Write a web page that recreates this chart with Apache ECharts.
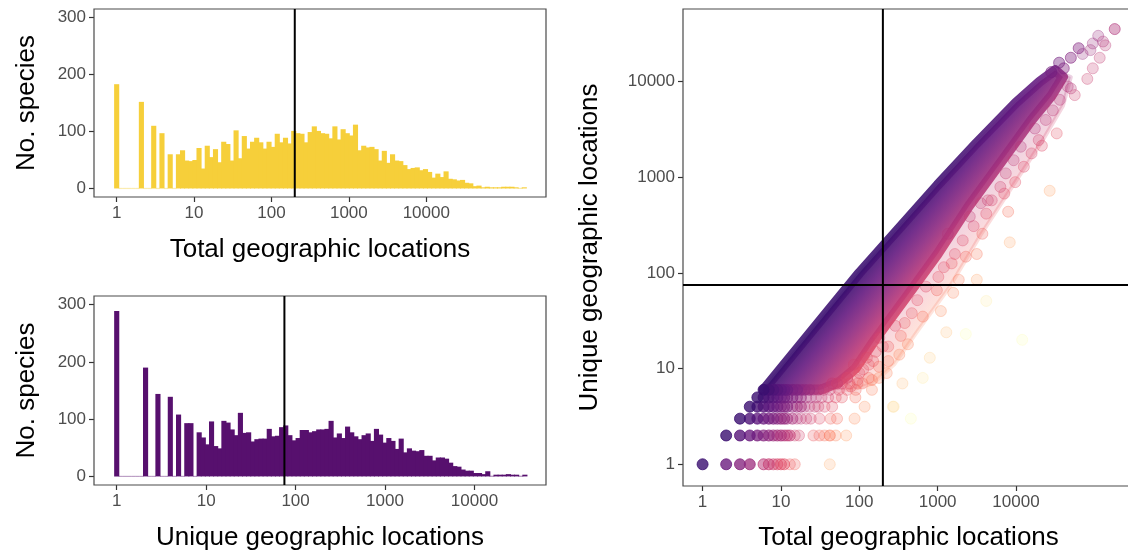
<!DOCTYPE html>
<html><head><meta charset="utf-8">
<script src="https://cdn.jsdelivr.net/npm/echarts@6/dist/echarts.min.js"></script>
<style>html,body{margin:0;padding:0;overflow:hidden;background:#fff}#c{width:1140px;height:559px}</style>
</head><body><div id="c"></div><script>
// ---------------- DATA ----------------
// histogram of total geographic locations: 100 bins in log10 space, bin k centred at k*totalBinWidth
const totalBinWidth = 0.0532;
const totalBinCounts = [183,0,0,0,0,0,152,0,0,110,0,97,0,60,0,
 60,67,49,48,50,71,35,75,55,69,46,82,78,49,102,53,92,70,82,89,81,70,82,73,96,81,89,79,101,97,
 96,81,99,109,101,97,96,88,109,86,104,97,93,112,67,75,72,73,69,49,66,45,60,49,48,41,34,36,37,32,
 34,29,19,26,20,30,17,16,14,15,10,9,4,5,2,3,2,2,2,3,3,3,2,1,2];
// histogram of unique geographic locations
const uniqueBinWidth = 0.0461;
const uniqueBinCounts = [289,0,0,0,0,0,0,190,0,0,144,0,0,139,0,108,0,93,93,0,
 77,68,56,96,53,49,97,94,82,72,111,76,77,61,65,66,66,83,70,71,86,89,72,63,67,81,81,77,79,82,
 82,83,97,68,75,67,87,77,70,65,72,75,62,83,73,59,67,62,48,66,42,49,45,44,46,36,36,28,33,33,
 31,24,18,17,12,10,10,6,6,4,9,1,3,3,3,4,3,3,1,3];
const logTickLabels = ['1','10','100','1000','10000'];
const countTicks = [0,100,200,300];
const totalRef = 200;   // vertical reference line
const uniqueRef = 75;   // reference line for unique locations

// scatter: rows of low unique counts (total values and number of stacked species)
const row1Total = [1,2,3,4,6,7,8,9,10,11,13,15,42];
const row1Count = [183,40,15,8,3,3,2,2,2,2,1,1,1];
const row2Total = [2,3,4,5,6,7,8,9,10,11,12,13,15,17,26,31,36,42,50,68];
const row2Count = [110,25,12,8,5,4,3,3,3,2,2,2,1,1,1,1,1,2,1,1];
const row3Total = [3,4,5,6,7,8,9,10,11,12,14,16,18,21,24,31,43,52,87,455];
const row3Count = [60,20,10,6,5,4,3,3,3,2,2,1,1,1,1,1,1,1,1,1];
const row4Total = [4,5,6,7,8,9,10,11,12,14,16,18,20,23,27,30,36,45,117,275];
const row4Count = [50,20,10,7,5,4,3,3,3,2,2,2,1,1,1,1,1,1,1,1];
const row5Total = [5,6,7,8,9,10,11,12,14,16,18,21,24,28,33,40,50,60,89];
const row5Count = [45,15,10,7,5,4,4,3,3,2,2,1,1,1,1,1,1,1,1];
const row6Total = [6,7,8,9,10,11,12,14,16,18,20,23,26,30,35,42,55,70,90];
const row6Count = [40,15,10,7,6,5,4,3,3,2,2,2,1,1,1,1,1,1,1];
const row7Total = [45,52,60,75,95,110];
const row7Count = [2,2,1,1,1,1];
// sparse individual species
const ptTotal  = [182000,112000,129000,138000,95500,89100,70800,117000,95500,81300,56200,50100,40700,33100,21400,17400,9770,26900,7940,8320,7080,4370,3720,3160,3160,2290,1860,1510,
                  12000,4170,2290,1290,794,646,355,269,1580,1100,977,646,417,324,224,178,145,234,132,
                  28200,35500,50100,63100,
                  45700,36300,29500,24000,19500,15800,12600,11500,9330,7410,6310,4900,4170,3550,2880,2570,2090,1660,1350,1200,1020,
                  708,550,468,380,339,288,234,200,178,162,145,132,112,95,85,78,
                  70,100,125,150,180];
const ptUnique = [35500,30200,26300,24000,25100,21400,19500,17800,13800,10700,7240,8510,13800,2880,2140,3240,891,724,437,209,676,575,257,158,85,148,85,126,
                  20,51,23,24,13,8,7,4,62,40,66,35,18,14,9,8,6,17,8,
                  12600,15800,17800,22400,
                  8910,6460,5010,3980,2450,1780,1290,2090,1510,1100,794,575,417,537,309,389,219,158,257,115,91,
                  72,52,38,30,22,28,12,17,10.5,15,7.6,11,9.8,7.6,11,6.5,
                  8,9,13,12,21];
const ptCount  = [2,1,1,1,1,1,1,1,1,1,1,1,2,1,1,1,1,1,1,1,1,1,1,1,1,1,1,1,
                  1,1,1,1,1,1,1,1,1,1,1,1,1,1,1,1,1,1,1,
                  2,2,2,2,
                  1,1,1,1,1,1,1,1,1,1,1,1,1,1,1,1,1,1,1,1,1,
                  1,1,1,1,1,1,1,1,1,1,1,1,1,1,1,1,
                  2,1,1,1,1];
// dense band outlines (total, unique)
const coreTotal  = [6,100,316,1000,3160,10000,20000,31600,39800,28200,15800,6310,2510,1000,398,158,89,55,32];
const coreUnique = [6,100,288,832,2290,6030,10000,13200,11200,7080,3980,1410,501,158,56,20,10,7.2,6];
const haloTotal  = [6,100,316,1000,3160,10000,20000,31600,50100,39800,22400,8910,3550,1410,562,282,150,80];
const haloUnique = [6,100,288,832,2290,6030,10000,13200,11200,5620,2510,794,251,70.8,25.1,11.2,7,6];

// ---------------- STYLE HELPERS ----------------
const LOG = Math.log10;
const magma = ['#3b0f70','#641a80','#8c2981','#b73779','#de4968','#f7705c','#fe9f6d','#fecf92','#fcfdbf'];
const LR_MAX = 2.0;
const FONT = '"Liberation Sans", Arial, Helvetica, sans-serif';
function hex2rgb(h){return [parseInt(h.slice(1,3),16),parseInt(h.slice(3,5),16),parseInt(h.slice(5,7),16)];}
function paletteAt(o){o=Math.max(0,Math.min(1,o));const f=o*(magma.length-1);const i=Math.min(magma.length-2,Math.floor(f));const t=f-i;const a=hex2rgb(magma[i]),b=hex2rgb(magma[i+1]);return a.map((v,j)=>Math.round(v+(b[j]-v)*t));}
function rgba(c,a){return 'rgba('+c[0]+','+c[1]+','+c[2]+','+a+')';}

const chart = echarts.init(document.getElementById('c'), null, {renderer:'canvas'});

function histSeries(counts, bw, idx, color){
  return {type:'custom', xAxisIndex:idx, yAxisIndex:idx, silent:true, animation:false, clip:true,
    data: counts.map((c,k)=>[k*bw, c]),
    renderItem:(params, api)=>{
      const c = api.value(0), n = api.value(1);
      const p0 = api.coord([c-bw/2, 0]);
      const p1 = api.coord([c+bw/2, n]);
      if (n <= 0) return {type:'rect', shape:{x:p0[0], y:p0[1]-0.6, width:p1[0]-p0[0], height:1.2}, style:{fill:color, opacity:0.4}};
      return {type:'rect', shape:{x:p0[0]-0.5, y:p1[1], width:p1[0]-p0[0]+1, height:p0[1]-p1[1]}, style:{fill:color}};
    }};
}
function bandSeries(tArr, uArr, alpha, strokeW){
  return {type:'custom', xAxisIndex:2, yAxisIndex:2, silent:true, animation:false, clip:true, data:[[0]],
    renderItem:(params, api)=>{
      const pts = tArr.map((t,i)=>api.coord([LOG(t), LOG(uArr[i])]));
      const P0 = api.coord([0,0]), P1 = api.coord([1,1]);
      let vx = P1[0]-P0[0], vy = P1[1]-P0[1]; const L = Math.hypot(vx,vy);
      let nx = vy/L, ny = -vx/L;
      const A = api.coord([LR_MAX, 0]);
      let d = (A[0]-P0[0])*nx + (A[1]-P0[1])*ny;
      if (d < 0){ nx=-nx; ny=-ny; d=-d; }
      const grad = new echarts.graphic.LinearGradient(P0[0], P0[1], P0[0]+nx*d, P0[1]+ny*d,
        magma.map((c,i)=>({offset:i/(magma.length-1), color:rgba(hex2rgb(c), alpha)})), true);
      return {type:'polygon', shape:{points:pts}, style:{fill:grad, stroke:grad, lineWidth:strokeW, lineJoin:'round'}};
    }};
}
const scatterPts = [];
[[row1Total,row1Count,1],[row2Total,row2Count,2],[row3Total,row3Count,3],[row4Total,row4Count,4],[row5Total,row5Count,5],[row6Total,row6Count,6],[row7Total,row7Count,7]]
 .forEach(([ts,ns,u])=>ts.forEach((t,i)=>scatterPts.push([t,u,ns[i]])));
ptTotal.forEach((t,i)=>scatterPts.push([t,ptUnique[i],ptCount[i]]));
scatterPts.sort((a,b)=>a[2]-b[2]);

function refLine(idx, pts){
  return {type:'line', xAxisIndex:idx, yAxisIndex:idx, data:pts, symbol:'none', silent:true, animation:false,
    lineStyle:{color:'#000', width:2}, clip:true, z:10};
}
const tickStyle = {color:'#4d4d4d', fontSize:17, fontFamily:FONT};
const nameStyle = {color:'#000', fontSize:26, fontFamily:FONT};
const tickLine = {show:true, length:5, lineStyle:{color:'#333', width:1.2}};
function logXAxis(idx, min, max, name, gap){
  return {type:'value', gridIndex:idx, min, max, name, nameLocation:'middle', nameGap:gap, nameTextStyle:nameStyle,
    axisLine:{show:false, onZero:false}, splitLine:{show:false},
    axisTick:Object.assign({customValues:[0,1,2,3,4]}, tickLine),
    axisLabel:Object.assign({customValues:[0,1,2,3,4], margin:8, formatter:v=>logTickLabels[Math.round(v)]}, tickStyle)};
}
function countYAxis(idx){
  return {type:'value', gridIndex:idx, min:-15, max:315, name:'No. species', nameLocation:'middle', nameGap:54, nameRotate:90, nameTextStyle:nameStyle,
    axisLine:{show:false, onZero:false}, splitLine:{show:false},
    axisTick:Object.assign({customValues:countTicks}, tickLine),
    axisLabel:Object.assign({customValues:countTicks, margin:8}, tickStyle)};
}
const gridBase = {show:true, borderColor:'#4a4a4a', borderWidth:1.2, backgroundColor:'transparent', containLabel:false, z:5};

const option = {
  animation:false,
  grid:[Object.assign({left:94, top:9, width:452, height:188}, gridBase),
        Object.assign({left:94, top:296, width:452, height:189}, gridBase),
        Object.assign({left:683, top:9, width:451, height:477}, gridBase)],
  xAxis:[logXAxis(0,-0.293,5.547,'Total geographic locations',40),
         logXAxis(1,-0.254,4.80,'Unique geographic locations',40),
         logXAxis(2,-0.25,5.506,'Total geographic locations',39)],
  yAxis:[countYAxis(0), countYAxis(1),
         {type:'value', gridIndex:2, min:-0.227, max:4.76, name:'Unique geographic locations', nameLocation:'middle', nameGap:80, nameRotate:90, nameTextStyle:nameStyle,
          axisLine:{show:false, onZero:false}, splitLine:{show:false},
          axisTick:Object.assign({customValues:[0,1,2,3,4]}, tickLine),
          axisLabel:Object.assign({customValues:[0,1,2,3,4], margin:8, formatter:v=>logTickLabels[Math.round(v)]}, tickStyle)}],
  series:[
    histSeries(totalBinCounts, totalBinWidth, 0, '#f6cf3a'),
    histSeries(uniqueBinCounts, uniqueBinWidth, 1, '#57106e'),
    refLine(0, [[LOG(totalRef),-15],[LOG(totalRef),315]]),
    refLine(1, [[LOG(uniqueRef),-15],[LOG(uniqueRef),315]]),
    bandSeries(haloTotal, haloUnique, 0.22, 4),
    bandSeries(coreTotal, coreUnique, 0.88, 10),
    {type:'scatter', xAxisIndex:2, yAxisIndex:2, symbolSize:11, silent:true, animation:false,
     data: scatterPts.map(([t,u,n])=>{const c=paletteAt(LOG(t/u)/LR_MAX); const a=1-Math.pow(0.7,n);
       return {value:[LOG(t),LOG(u)], itemStyle:{color:rgba(c,a.toFixed(3)), borderColor:rgba(c,Math.min(1,a*1.4).toFixed(3)), borderWidth:1}};})},
    refLine(2, [[LOG(totalRef),-0.227],[LOG(totalRef),4.76]]),
    refLine(2, [[-0.25,LOG(uniqueRef)],[5.506,LOG(uniqueRef)]])
  ]
};
chart.setOption(option);
</script></body></html>
